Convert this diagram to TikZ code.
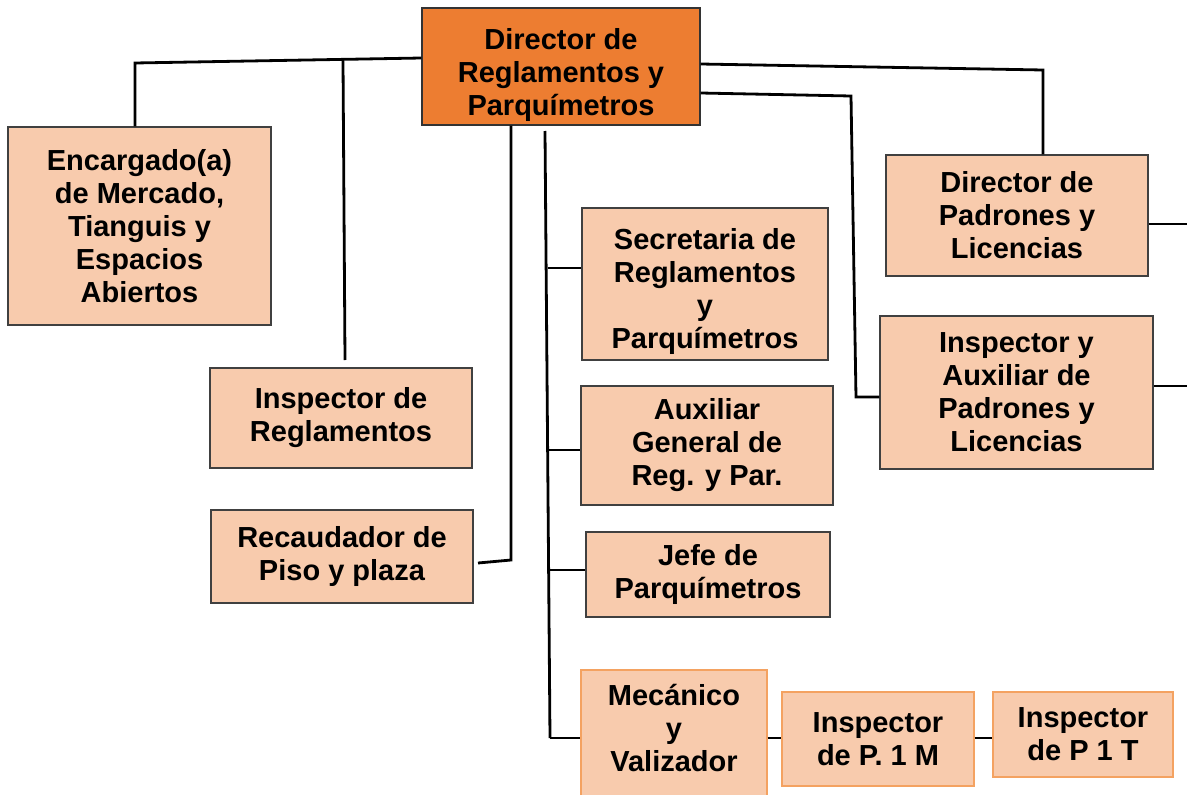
\documentclass[tikz,border=0pt]{standalone}
\usepackage{fontspec}
\setmainfont{Liberation Sans}
\definecolor{boxfill}{HTML}{F8CBAD}
\definecolor{boxdraw}{HTML}{404040}
\definecolor{orgfill}{HTML}{ED7D31}
\definecolor{orgline}{HTML}{F4A261}
\newcommand\upstrut[1]{\rule{0pt}{#1}}
\newcommand\dnstrut[1]{\rule[-#1]{0pt}{#1}}
\begin{document}
\begin{tikzpicture}[x=1pt,y=-1pt,
  box/.style={draw=boxdraw,line width=1.3pt,fill=boxfill,inner sep=0pt,align=center,
    font=\fontsize{29}{33}\selectfont\bfseries},
  obox/.style={box,draw=orgline},
  topbox/.style={box,fill=orgfill,draw=black!80},
  conn/.style={draw=black,line width=2.8pt}]
\useasboundingbox (0,0) rectangle (1187,795);
% nodes
\node[topbox,minimum width=278pt,minimum height=117pt] (dir) at (561,66.5) {\upstrut{38pt}Director de\\Reglamentos y\\Parquímetros};
\node[box,minimum width=263pt,minimum height=198pt] (enc) at (139.5,226) {Encargado(a)\\de Mercado,\\Tianguis y\\Espacios\\Abiertos};
\node[box,minimum width=262pt,minimum height=100pt] (insr) at (341,418) {Inspector de\\Reglamentos};
\node[box,minimum width=262pt,minimum height=93pt] (rec) at (342,556.5) {Recaudador de\\Piso y plaza};
\node[box,minimum width=246pt,minimum height=152pt] (sec) at (705,284) {\upstrut{36pt}Secretaria de\\Reglamentos\\y\\Parquímetros};
\node[box,minimum width=252pt,minimum height=119pt] (aux) at (707,445.5) {Auxiliar\\General de\\Reg. y Par.};
\node[box,minimum width=244pt,minimum height=85pt] (jefe) at (708,574.5) {Jefe de\\Parquímetros};
\node[obox,minimum width=186pt,minimum height=134pt] (mec) at (674,737) {Mecánico\\y\\Valizador\dnstrut{19pt}};
\node[obox,minimum width=192pt,minimum height=94pt] (pm) at (878,739) {Inspector\\de P. 1 M};
\node[obox,minimum width=180pt,minimum height=85pt] (pt) at (1083,734.5) {Inspector\\de P 1 T};
\node[box,minimum width=262pt,minimum height=121pt] (dpad) at (1017,215.5) {Director de\\Padrones y\\Licencias};
\node[box,minimum width=273pt,minimum height=153pt] (iaux) at (1016.5,392.5) {Inspector y\\Auxiliar de\\Padrones y\\Licencias};
% coordinates
\coordinate (lA) at (135,63);
\coordinate (lB) at (343,61);
\coordinate (lBend) at (345,360);
\coordinate (rA) at (1043,70);
\coordinate (rB) at (851,96);
\coordinate (rBd) at (856,397);
\coordinate (vR) at (511,560);
\coordinate (vRe) at (478,563);
\coordinate (sTop) at (545,131);
\coordinate (s1) at (548,268);
\coordinate (s2) at (548,450);
\coordinate (s3) at (549,570);
\coordinate (s4) at (550,738);
\coordinate (e1) at (1187,224);
\coordinate (e2) at (1187,386);
% connectors
\draw[conn] ([yshift=8.5pt]dir.west) -- (lA) -- (lA |- enc.north);
\draw[conn] (lB) -- (lBend);
\draw[conn] ([yshift=2.5pt]dir.east) -- (rA) -- (rA |- dpad.north);
\draw[conn] ([yshift=-26.5pt]dir.east) -- (rB) -- (rBd) -- (rBd -| iaux.west);
\draw[conn] (dir.south -| vR) -- (vR) -- (vRe);
\draw[conn] (sTop) -- (s4);
\draw[conn] (s1) -- (s1 -| sec.west);
\draw[conn] (s2) -- (s2 -| aux.west);
\draw[conn] (s3) -- (s3 -| jefe.west);
\draw[conn] (s4) -- (s4 -| mec.west);
\draw[conn] (mec.east |- s4) -- (pm.west |- s4);
\draw[conn] (pm.east |- s4) -- (pt.west |- s4);
\draw[conn] (dpad.east |- e1) -- (e1);
\draw[conn] (iaux.east |- e2) -- (e2);
\end{tikzpicture}
\end{document}
